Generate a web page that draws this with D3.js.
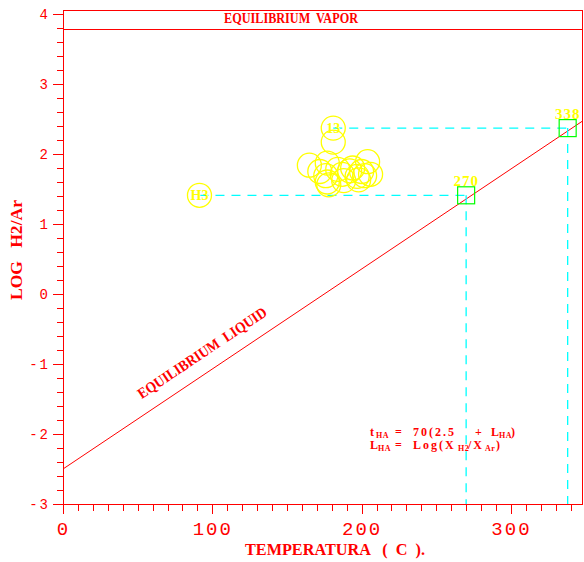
<!DOCTYPE html>
<html>
<head>
<meta charset="utf-8">
<script src="https://cdn.jsdelivr.net/npm/d3@7"></script>
<style>
  html, body { margin: 0; padding: 0; background: #fff; }
  svg { display: block; }
  text { white-space: pre; }
</style>
</head>
<body>
<svg id="chart" width="584" height="562"></svg>
<script>
// ---- data -------------------------------------------------------------
const tempDomain = [0, 348];          // temperature (C)
const logDomain = [-3, 4];            // log H2/Ar
const frameTopLog = 4.057;

const xMajorTicks = [0, 100, 200, 300];
const yMajorTicks = [-3, -2, -1, 0, 1, 2, 3, 4];
const yTickLabels = ["-3", "-2", "-1", "0", "1", "2", "3", "4"];

// equilibrium vapour level and liquid line  t = 70 (2.5 + L)
const vaporLog = 3.78;
const liquidFactor = 70;
const liquidOffset = 2.5;

// samples (temperature of discharge, log H2/Ar)
const sampleT = [91.4, 181, 181, 165, 177, 204, 176, 177, 178, 192, 202, 206, 197, 187, 194, 184, 172, 200, 188, 198];
const sampleL = [1.41, 2.37, 2.17, 1.84, 1.87, 1.89, 1.69, 1.60, 1.56, 1.76, 1.69, 1.71, 1.68, 1.71, 1.80, 1.78, 1.75, 1.75, 1.62, 1.63];
const sampleName = ["H3", "13", "", "", "", "", "", "", "", "", "", "", "", "", "", "", "", "", "", ""];

// HA temperatures estimated for the two labelled samples
const estT = [270, 338];
const estL = [1.41, 2.37];
const estFrom = [0, 1];                // index into the samples

// ---- drawing ------------------------------------------------------------
const RED = "#ff0000", YELLOW = "#ffff00", CYAN = "#00ffff", GREEN = "#00ff00";
const svg = d3.select("#chart");
svg.append("rect").attr("width", 584).attr("height", 562).attr("fill", "#fff");

const x = d3.scaleLinear().domain(tempDomain).range([63, 582.6]);
const y = d3.scaleLinear().domain(logDomain).range([504, 14]);

const serif = "'Liberation Serif', 'Times New Roman', serif";
const mono = "'Liberation Mono', 'DejaVu Sans Mono', monospace";

// frame
const frame = svg.append("g").attr("stroke", RED).attr("stroke-width", 1).attr("fill", "none")
  .attr("shape-rendering", "crispEdges");
frame.append("line").attr("x1", x(0)).attr("x2", x(0)).attr("y1", y(frameTopLog)).attr("y2", y(-3) + 10);
frame.append("line").attr("x1", x(0)).attr("x2", x(tempDomain[1])).attr("y1", y(frameTopLog)).attr("y2", y(frameTopLog));
frame.append("line").attr("x1", x(tempDomain[1])).attr("x2", x(tempDomain[1])).attr("y1", y(frameTopLog)).attr("y2", y(-3));
frame.append("line").attr("x1", x(0)).attr("x2", x(tempDomain[1])).attr("y1", y(-3)).attr("y2", y(-3));

// y axis: major and minor ticks
const yMinor = d3.range(-3, 4.001, 0.2).filter(v => Math.abs(v - Math.round(v)) > 1e-6);
const yAxisMinor = svg.append("g").attr("transform", `translate(${x(0)},0)`)
  .call(d3.axisLeft(y).tickValues(yMinor).tickSize(6).tickSizeOuter(0).tickFormat(""));
const yAxis = svg.append("g").attr("transform", `translate(${x(0)},0)`)
  .call(d3.axisLeft(y).tickValues(yMajorTicks).tickSize(10).tickSizeOuter(0).tickPadding(5)
    .tickFormat((d, i) => yTickLabels[i]));

// x axis: major and minor ticks
const xMinor = d3.range(10, tempDomain[1], 10).filter(v => v % 100 !== 0);
const xAxisMinor = svg.append("g").attr("transform", `translate(0,${y(-3)})`)
  .call(d3.axisBottom(x).tickValues(xMinor).tickSize(7).tickSizeOuter(0).tickFormat(""));
const xAxis = svg.append("g").attr("transform", `translate(0,${y(-3)})`)
  .call(d3.axisBottom(x).tickValues(xMajorTicks).tickSize(10).tickSizeOuter(0).tickPadding(7.5)
    .tickFormat(d3.format("d")));

[yAxisMinor, yAxis, xAxisMinor, xAxis].forEach(g => {
  g.select(".domain").remove();
  g.selectAll("line").attr("stroke", RED).attr("shape-rendering", "crispEdges");
});
yAxis.selectAll("text").attr("fill", RED).attr("font-family", mono).attr("font-size", 14)
  .each(function (d, i) {
    const lab = yTickLabels[i];
    if (lab.startsWith("-")) {
      const t = d3.select(this).text("");
      t.append("tspan").text("-");
      t.append("tspan").attr("dx", 2).text(lab.slice(1));
    }
  });
xAxis.selectAll("text").attr("fill", RED).attr("font-family", mono).attr("font-size", 19)
  .attr("letter-spacing", 2);

// equilibrium vapour line
svg.append("line").attr("x1", x(0)).attr("x2", x(tempDomain[1]))
  .attr("y1", y(vaporLog)).attr("y2", y(vaporLog))
  .attr("stroke", RED).attr("shape-rendering", "crispEdges");
svg.append("text").attr("x", 224).attr("y", 23)
  .attr("font-family", serif).attr("font-weight", "bold").attr("font-size", 15)
  .attr("fill", RED).attr("textLength", 134).attr("lengthAdjust", "spacingAndGlyphs")
  .text("EQUILIBRIUM  VAPOR");

// equilibrium liquid line
const liqT = [tempDomain[0], tempDomain[1]];
const liqY = t => y(t / liquidFactor - liquidOffset);
svg.append("path").datum(liqT).attr("d", d3.line().x(t => x(t)).y(liqY))
  .attr("fill", "none").attr("stroke", RED).attr("stroke-width", 1);

const t0 = 58;
const ang = Math.atan2(liqY(t0) - liqY(t0 + 100), x(t0 + 100) - x(t0)) * 180 / Math.PI;
svg.append("text")
  .attr("transform", `translate(${x(t0)},${liqY(t0)}) rotate(${-ang})`)
  .attr("x", 0).attr("y", -14)
  .attr("font-family", serif).attr("font-weight", "bold").attr("font-size", 15)
  .attr("fill", RED).attr("textLength", 152).attr("lengthAdjust", "spacingAndGlyphs")
  .text("EQUILIBRIUM  LIQUID");

// dashed guides from the labelled samples to their HA temperatures
const guides = svg.append("g").attr("stroke", CYAN).attr("stroke-width", 1.3)
  .attr("stroke-dasharray", "9,7").attr("fill", "none");
estT.forEach((t, i) => {
  const s = estFrom[i];
  guides.append("path")
    .attr("d", d3.line()([[x(sampleT[s]), y(estL[i])], [x(t), y(estL[i])]]));
  guides.append("path")
    .attr("d", d3.line()([[x(t), y(estL[i])], [x(t), y(-3)]]));
});

// sample circles
const samples = svg.append("g");
samples.selectAll("circle").data(sampleT).join("circle")
  .attr("cx", d => x(d)).attr("cy", (d, i) => y(sampleL[i])).attr("r", 12)
  .attr("fill", "none").attr("stroke", YELLOW).attr("stroke-width", 1.3);
samples.selectAll("text").data(sampleName).join("text")
  .attr("x", (d, i) => x(sampleT[i])).attr("y", (d, i) => y(sampleL[i]) + 5)
  .attr("text-anchor", "middle").attr("font-family", serif).attr("font-weight", "bold")
  .attr("font-size", 14).attr("fill", YELLOW).text(d => d);

// HA temperature boxes
const est = svg.append("g");
est.selectAll("rect").data(estT).join("rect")
  .attr("x", d => x(d) - 8.5).attr("y", (d, i) => y(estL[i]) - 8.5)
  .attr("width", 17).attr("height", 17)
  .attr("fill", "none").attr("stroke", GREEN).attr("stroke-width", 1.2);
est.selectAll("text").data(estT).join("text")
  .attr("x", d => x(d)).attr("y", (d, i) => y(estL[i]) - 9.5)
  .attr("text-anchor", "middle").attr("font-family", serif).attr("font-weight", "bold")
  .attr("font-size", 15).attr("letter-spacing", 1).attr("fill", YELLOW)
  .text(d => String(d));

// axis titles
svg.append("text").attr("transform", "translate(22,300) rotate(-90)")
  .attr("font-family", serif).attr("font-weight", "bold").attr("font-size", 16)
  .attr("fill", RED).attr("textLength", 100).attr("lengthAdjust", "spacingAndGlyphs")
  .text("LOG   H2/Ar");
svg.append("text").attr("x", 245).attr("y", 555)
  .attr("font-family", serif).attr("font-weight", "bold").attr("font-size", 16)
  .attr("fill", RED).attr("textLength", 180).attr("lengthAdjust", "spacingAndGlyphs")
  .text("TEMPERATURA   (  C  ).");

// formula: one text per line, pieces placed with tspans
const fm = svg.append("g").attr("font-family", serif).attr("font-weight", "bold")
  .attr("fill", RED).attr("font-size", 12);
function formulaLine(py, parts) {
  const t = fm.append("text").attr("y", py);
  parts.forEach(p => {
    const s = t.append("tspan").attr("x", p[0]).attr("y", py + (p[2] ? 2 : 0)).text(p[1]);
    if (p[2]) s.attr("font-size", 8).attr("letter-spacing", 0.5);
    else s.attr("letter-spacing", p[1].length > 1 ? 2 : 0);
  });
}
formulaLine(436, [[370, "t"], [376, "HA", true], [395, "="], [413, "70(2.5"], [475, "+"],
                  [491, "L"], [499, "HA", true], [511, ")"]]);
formulaLine(449, [[370, "L"], [378, "HA", true], [395, "="], [413, "Log(X"], [458, "H2", true],
                  [468, "/X"], [485, "Ar", true], [496, ")"]]);
</script>
</body>
</html>
